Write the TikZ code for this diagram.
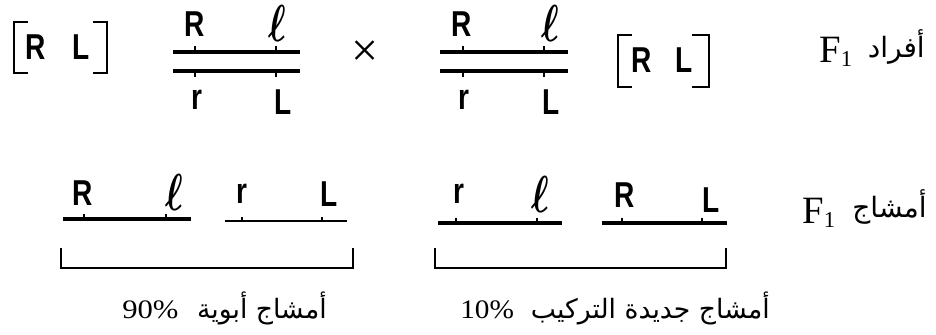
\documentclass[tikz,border=0pt]{standalone}
\usepackage{fontspec}
\usepackage{amsmath}
\usepackage{graphicx}
\setmainfont{Liberation Serif}
\newfontfamily\gsans{Liberation Sans}
\newfontfamily\arabicfont[Script=Arabic]{DejaVu Sans}
\TeXXeTstate=1
\newcommand\gn[1]{\scalebox{0.78}[1]{\gsans\bfseries #1}}
\newcommand\ellg{\scalebox{2.8}[3.9]{\fontsize{10}{12}\selectfont$\boldsymbol{\ell}$}}
\newcommand\Fone{{\fontsize{29}{29}\selectfont F}\raisebox{-3pt}{\fontsize{17}{17}\selectfont 1}}
\tikzset{
  gene/.style={inner sep=0pt, font=\fontsize{27}{27}\selectfont},
  chrom/.style={line width=2.8pt},
  thinchrom/.style={line width=2pt},
  tk/.style={line width=1.6pt},
  brk/.style={line width=1.9pt},
  lab/.style={inner sep=0pt},
  arl/.style={inner sep=0pt, font=\arabicfont\fontsize{21}{21}\selectfont},
  arb/.style={inner sep=0pt, font=\arabicfont\fontsize{20}{20}\selectfont},
  pct/.style={inner sep=0pt, font=\fontsize{20}{20}\selectfont},
}
\begin{document}
\begin{tikzpicture}[x=0.75pt,y=-0.75pt]
\useasboundingbox (0,0) rectangle (936,335);

% ---- top row: left genotype bracket
\draw[brk] (28,22) -- (14,22) -- (14,73) -- (28,73);
\draw[brk] (93,22) -- (107,22) -- (107,73) -- (93,73);
\node[gene,anchor=base] (b1R) at (36,60) {\gn{R}};
\node[gene,anchor=base] (b1L) at (81,60) {\gn{L}};

% ---- chromosome pair 1
\draw[chrom] (173,52) -- (300,52);
\draw[chrom] (173,71) -- (300,71);
\draw[tk] (195,46) -- (195,52);
\draw[tk] (276,46) -- (276,52);
\draw[tk] (195,71) -- (195,77);
\draw[tk] (276,71) -- (276,77);
\node[gene,anchor=base] (p1R) at (195,37) {\gn{R}};
\node[gene,anchor=base] (p1l) at (277,42) {\ellg};
\node[gene,anchor=base] (p1r) at (197,110) {\gn{r}};
\node[gene,anchor=base] (p1L) at (283,115) {\gn{L}};

% ---- cross sign
\node[inner sep=0pt, font=\fontsize{36}{36}\selectfont] (x) at (365,54) {×};

% ---- chromosome pair 2
\draw[chrom] (440,52) -- (568,52);
\draw[chrom] (440,71) -- (568,71);
\draw[tk] (463,46) -- (463,52);
\draw[tk] (544,46) -- (544,52);
\draw[tk] (463,71) -- (463,77);
\draw[tk] (544,71) -- (544,77);
\node[gene,anchor=base] (p2R) at (462,37) {\gn{R}};
\node[gene,anchor=base] (p2l) at (550,42) {\ellg};
\node[gene,anchor=base] (p2r) at (464,110) {\gn{r}};
\node[gene,anchor=base] (p2L) at (551,115) {\gn{L}};

% ---- right genotype bracket
\draw[brk] (632,35) -- (618,35) -- (618,87) -- (632,87);
\draw[brk] (692,35) -- (709,35) -- (709,87) -- (692,87);
\node[gene,anchor=base] (b2R) at (642,73) {\gn{R}};
\node[gene,anchor=base] (b2L) at (684,73) {\gn{L}};

% ---- row labels
\node[lab,anchor=base west] (f1a) at (819,63) {\Fone};
\node[arl,anchor=base east] (ara) at (925,58) {\beginR أفراد\endR};
\node[lab,anchor=base west] (f1b) at (802,223) {\Fone};
\node[arl,anchor=base east] (arb) at (927,217) {\beginR أمشاج\endR};

% ---- gametes, parental
\draw[chrom] (63,219) -- (191,219);
\draw[tk] (84,214) -- (84,219);
\draw[tk] (166,214) -- (166,219);
\node[gene,anchor=base] (g1R) at (83,205) {\gn{R}};
\node[gene,anchor=base] (g1l) at (174,210) {\ellg};
\draw[thinchrom] (225,221) -- (347,221);
\draw[tk] (242,217) -- (242,221);
\draw[tk] (322,217) -- (322,221);
\node[gene,anchor=base] (g2r) at (242,203) {\gn{r}};
\node[gene,anchor=base] (g2L) at (329,206) {\gn{L}};
\draw[brk] (61,248) -- (61,268) -- (353,268) -- (353,248);

% ---- gametes, recombinant
\draw[chrom] (438,223) -- (562,223);
\draw[tk] (456,218) -- (456,223);
\draw[tk] (537,218) -- (537,223);
\node[gene,anchor=base] (g3r) at (459,203) {\gn{r}};
\node[gene,anchor=base] (g3l) at (540,212) {\ellg};
\draw[chrom] (602,223) -- (727,223);
\draw[tk] (622,218) -- (622,223);
\draw[tk] (702,218) -- (702,223);
\node[gene,anchor=base] (g4R) at (625,207) {\gn{R}};
\node[gene,anchor=base] (g4L) at (711,212) {\gn{L}};
\draw[brk] (435,248) -- (435,268) -- (726,268) -- (726,248);

% ---- bottom labels
\node[pct,anchor=base west] (pa) at (122,318) {\scalebox{1.15}[1]{90\%}};
\node[arb,anchor=base east] (la) at (327,318) {\beginR أمشاج أبوية\endR};
\node[pct,anchor=base west] (pb) at (460,318) {\scalebox{1.1}[1]{10\%}};
\node[arb,anchor=base east] (lb) at (770,318) {\beginR أمشاج جديدة التركيب\endR};
\end{tikzpicture}
\end{document}
